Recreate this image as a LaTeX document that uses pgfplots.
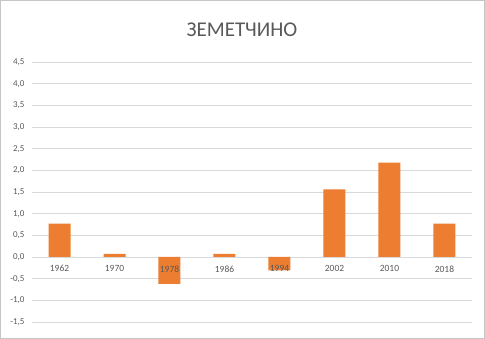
\documentclass[border=0pt]{standalone}
\usepackage{fontspec}
\setmainfont{Carlito}
\usepackage{pgfplots}
\pgfplotsset{compat=1.18}
\definecolor{barorange}{RGB}{237,125,49}
\definecolor{txtgray}{RGB}{89,89,89}
\definecolor{gridgray}{RGB}{217,217,217}
\begin{document}
\begin{tikzpicture}[x=1pt,y=1pt]
\path[use as bounding box] (0,0) rectangle (485,339);
\draw[gray!45,line width=1pt] (0.5,0.5) rectangle (484.5,338.5);
\node[text=txtgray,font=\fontsize{21}{23}\selectfont] at (242,309) {ЗЕМЕТЧИНО};
\begin{axis}[
  at={(59.5pt,82pt)}, anchor=origin,
  scale only axis, width=440pt, height=260pt,
  xmin=-0.5, xmax=7.5, ymin=-1.5, ymax=4.5,
  axis x line*=middle, axis y line*=left,
  x axis line style={draw=none}, y axis line style={draw=none},
  xtick=\empty,
  ytick={-1.5,-1,...,4.5},
  major tick length=0pt,
  ymajorgrids, grid style={gridgray,line width=0.8pt},
  yticklabel style={text=txtgray,font=\fontsize{9}{10}\selectfont, /pgf/number format/.cd, fixed, fixed zerofill, precision=1, use comma},
  /pgf/number format/assume math mode=true,
  yticklabel shift=4pt,
  clip=false,
]
\addplot[ybar, bar width=22pt, fill=barorange, draw=none] coordinates {
(0,0.77) (1,0.07) (2,-0.62) (3,0.07) (4,-0.31) (5,1.56) (6,2.18) (7,0.77)};
\begin{scope}[every node/.style={text=txtgray,font=\fontsize{9.5}{11}\selectfont,anchor=north,yshift=-5pt}]
\node at (axis cs:0,0) {1962};
\node at (axis cs:1,0) {1970};
\node at (axis cs:2,0) {1978};
\node at (axis cs:3,0) {1986};
\node at (axis cs:4,0) {1994};
\node at (axis cs:5,0) {2002};
\node at (axis cs:6,0) {2010};
\node at (axis cs:7,0) {2018};
\end{scope}
\end{axis}
\end{tikzpicture}
\end{document}
